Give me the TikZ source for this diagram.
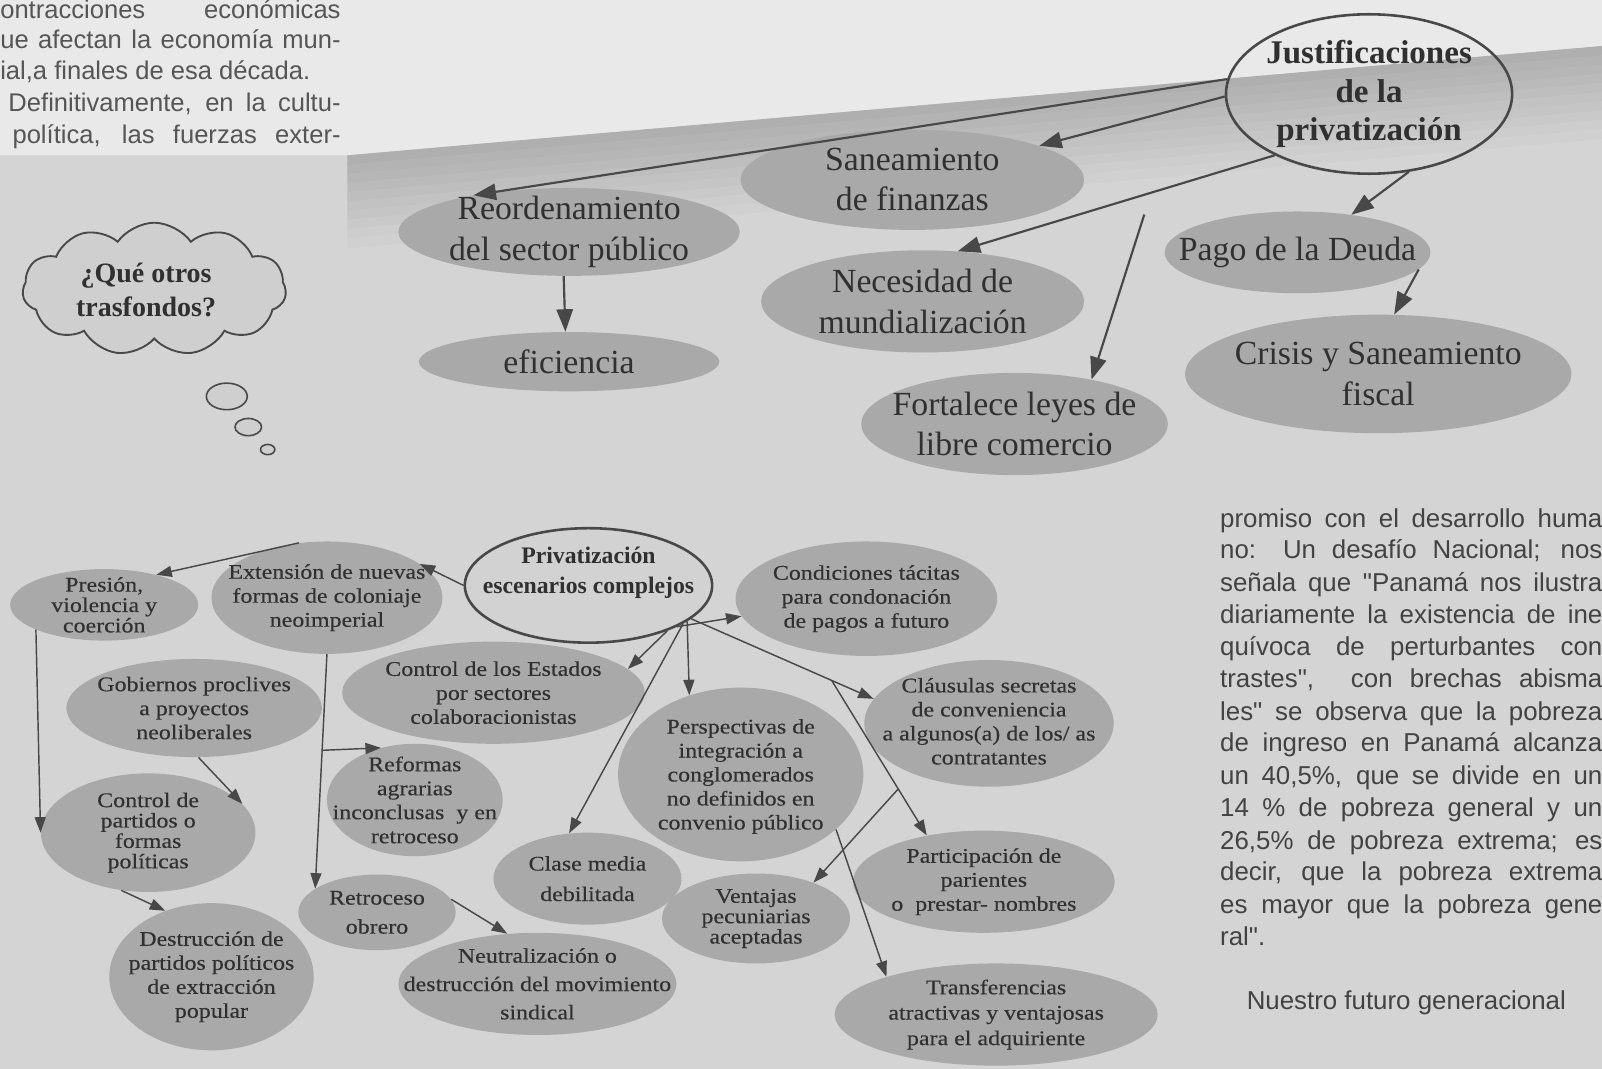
\documentclass[tikz,border=0pt]{standalone}
\usepackage{fontspec}
\setmainfont{Liberation Serif}
\newfontfamily\sansf{Liberation Sans}
\newfontfamily\serifw[FakeStretch=1.15,FakeBold=0.3]{Liberation Serif}
\usetikzlibrary{shapes.geometric,shapes.symbols,arrows.meta,calc}
\definecolor{bgc}{HTML}{D4D4D4}
\definecolor{bgl}{HTML}{E9E9E9}
\definecolor{bandc}{HTML}{AFAFAF}
\definecolor{ellc}{HTML}{A9A9A9}
\definecolor{olc}{HTML}{484848}
\definecolor{tc}{HTML}{303030}
\definecolor{ptc}{HTML}{424242}
\definecolor{ptl}{HTML}{555555}
\definecolor{outfill}{HTML}{D2D2D2}
\definecolor{cloudc}{HTML}{CFCFCF}
\newcommand{\fBig}{\fontsize{23.5}{28}\selectfont}
\newcommand{\fJus}{\bfseries\fontsize{23}{27}\selectfont}
\newcommand{\fCloud}{\bfseries\fontsize{19.5}{24}\selectfont}
\newcommand{\fPriv}{\bfseries\fontsize{16.5}{21}\selectfont}
\newcommand{\fSm}{\serifw\fontsize{14.5}{16.7}\selectfont}
\newcommand{\fSmT}{\serifw\fontsize{14.5}{14.2}\selectfont}
\pgfdeclarelayer{back}
\pgfdeclarelayer{blobs}
\pgfsetlayers{back,blobs,main}
\tikzset{
  blob/.style={ellipse, fill=ellc, inner sep=0pt},
  oblob/.style={ellipse, draw=olc, line width=1.8pt, inner sep=0pt},
  txt/.style={align=center, inner sep=0pt, text=tc},
  arrT/.style={draw=olc, line width=1.5pt, -{Triangle[length=0.55cm,width=0.4cm]}},
  arrB/.style={draw=olc, line width=1.0pt, -{Triangle[length=0.38cm,width=0.27cm]}},
  para/.style={anchor=base west, inner sep=0pt, text=ptc, font=\sansf\fontsize{18}{22}\selectfont},
  parl/.style={anchor=base west, inner sep=0pt, text=ptl, font=\sansf\fontsize{17.8}{22}\selectfont},
}
% [text shift up px]{name}{style}{x,y}{rx}{ry}{font}{text}
\newcommand{\mkblob}[8][0]{%
  \begin{pgfonlayer}{blobs}
  \node[#3, minimum width=#5*0.05cm, minimum height=#6*0.05cm] (#2) at (#4) {};
  \end{pgfonlayer}
  \node[txt, font=#7, yshift=#1*0.025cm] (#2-t) at (#2.center) {#8};}
\begin{document}
\begin{tikzpicture}[x=0.025cm, y=-0.025cm]
\useasboundingbox (0,0) rectangle (1568,1046);
\clip (0,0) rectangle (1568,1046);
\begin{pgfonlayer}{back}
\fill[bgc] (0,0) rectangle (1568,1046);
\fill[bgl] (0,0) -- (1568,0) -- (1568,45) -- (340,152) -- (0,152) -- cycle;
\foreach \i in {0,...,9}{
  \pgfmathsetmacro\p{100-10*\i}
  \fill[bandc!\p!bgc] (340,152+9*\i) -- (1568,45+9*\i) -- (1568,55+9*\i) -- (340,162+9*\i) -- cycle;
}
\end{pgfonlayer}

% top-left paragraph
\node[parl] (tl1) at (0,18) {\makebox[8.325cm][s]{ontracciones económicas}};
\node[parl] (tl2) at (0,47) {\makebox[8.325cm][s]{ue afectan la economía mun-}};
\node[parl] (tl3) at (0,78) {ial,a finales de esa década.};
\node[parl] (tl4) at (8,109) {\makebox[8.125cm][s]{Definitivamente, en la cultu-}};
\node[parl] (tl5) at (12,140) {\makebox[8.025cm][s]{política, las fuerzas exter-}};

% right paragraph
\node[para] (r1) at (1194,516) {\makebox[9.35cm][s]{promiso con el desarrollo huma}};
\node[para] (r2) at (1194,547) {\makebox[9.35cm][s]{no: Un desafío Nacional; nos}};
\node[para] (r3) at (1194,579) {\makebox[9.35cm][s]{señala que "Panamá nos ilustra}};
\node[para] (r4) at (1194,610) {\makebox[9.35cm][s]{diariamente la existencia de ine}};
\node[para] (r5) at (1194,642) {\makebox[9.35cm][s]{quívoca de perturbantes con}};
\node[para] (r6) at (1194,673) {\makebox[9.35cm][s]{trastes", \ con brechas abisma}};
\node[para] (r7) at (1194,705) {\makebox[9.35cm][s]{les" se observa que la pobreza}};
\node[para] (r8) at (1194,736) {\makebox[9.35cm][s]{de ingreso en Panamá alcanza}};
\node[para] (r9) at (1194,768) {\makebox[9.35cm][s]{un 40,5\%, que se divide en un}};
\node[para] (r10) at (1194,799) {\makebox[9.35cm][s]{14 \% de pobreza general y un}};
\node[para] (r11) at (1194,831) {\makebox[9.35cm][s]{26,5\% de pobreza extrema; es}};
\node[para] (r12) at (1194,862) {\makebox[9.35cm][s]{decir, que la pobreza extrema}};
\node[para] (r13) at (1194,894) {\makebox[9.35cm][s]{es mayor que la pobreza gene}};
\node[para] (r14) at (1194,925) {ral".};
\node[para] (r15) at (1220,988) {Nuestro futuro generacional};

% cloud
\begin{pgfonlayer}{blobs}
\node[cloud, cloud puffs=11, cloud puff arc=110, aspect=2, fill=cloudc, draw=olc, line width=1.3pt,
      minimum width=6.45cm, minimum height=3.25cm, inner sep=0pt] (cloud) at (151,283) {};
\node[ellipse, fill=cloudc, draw=olc, line width=1.1pt, minimum width=1cm, minimum height=0.65cm, inner sep=0pt] (bub1) at (222,388) {};
\node[ellipse, fill=cloudc, draw=olc, line width=1.1pt, minimum width=0.65cm, minimum height=0.42cm, inner sep=0pt] (bub2) at (243,418) {};
\node[ellipse, fill=cloudc, draw=olc, line width=1.1pt, minimum width=0.35cm, minimum height=0.25cm, inner sep=0pt] (bub3) at (262,440) {};
\end{pgfonlayer}
\node[txt, font=\fCloud] (cloud-t) at (143,284) {¿Qué otros\\trasfondos?};

% top map
\mkblob{justif}{oblob}{1340,92}{140}{78}{\fJus}{Justificaciones\\de la\\privatización}
\mkblob{sanea}{blob}{893,176}{168}{49}{\fBig}{Saneamiento\\de finanzas}
\mkblob{reord}{blob}{557,227}{167}{43}{\fBig}{Reordenamiento\\del sector público}
\mkblob{efic}{blob}{557,354}{147}{29}{\fBig}{eficiencia}
\mkblob{neces}{blob}{903,295}{158}{50}{\fBig}{Necesidad de\\mundialización}
\mkblob{pago}{blob}{1270,247}{130}{40}{\fBig}{Pago de la Deuda}
\mkblob{crisis}{blob}{1349,366}{189}{58}{\fBig}{Crisis y Saneamiento\\fiscal}
\mkblob{fortal}{blob}{993,415}{150}{50}{\fBig}{Fortalece leyes de\\libre comercio}

\draw[arrT] (justif.174) -- (reord.159);
\draw[arrT] (justif.181) -- (sanea.15);
\draw[arrT] (justif.213) -- (neces.55);
\draw[arrT] (justif.297) -- (pago.35);
\coordinate (fstart) at (1120,210);
\draw[arrT] (fstart) -- (fortal.30);
\draw[arrT] (pago.352) -- (crisis.75);
\draw[arrT] (reord.263) -- (efic.97);

% bottom map
\mkblob[12]{priv}{oblob,fill=outfill}{576,573}{121}{56}{\fPriv}{Privatización\\escenarios complejos}
\mkblob{presion}{blob}{102,592}{92}{35}{\fSmT}{Presión,\\violencia y\\coerción}
\mkblob{exten}{blob}{320,585}{113}{55}{\fSm}{Extensión de nuevas\\formas de coloniaje\\neoimperial}
\mkblob{gobier}{blob}{190,693}{125}{48}{\fSm}{Gobiernos proclives\\a proyectos\\neoliberales}
\mkblob{ctrlE}{blob}{483,678}{148}{50}{\fSm}{Control de los Estados\\por sectores\\colaboracionistas}
\mkblob{condic}{blob}{848,586}{128}{56}{\fSm}{Condiciones tácitas\\para condonación\\de pagos a futuro}
\mkblob[2]{claus}{blob}{968,708}{122}{62}{\fSm}{Cláusulas secretas\\de conveniencia\\a algunos(a) de los/ as\\contratantes}
\mkblob[-2]{persp}{blob}{725,758}{120}{85}{\fSm}{Perspectivas de\\integración a\\conglomerados\\no definidos en\\convenio público}
\mkblob{reform}{blob}{406,783}{86}{55}{\fSm}{Reformas\\agrarias\\inconclusas \ y en\\retroceso}
\mkblob{ctrlpart}{blob}{145,815}{105}{58}{\fSmT}{Control de\\partidos o\\formas\\políticas}
\mkblob{clase}{blob}{575,860}{92}{45}{\fSm}{Clase media\\[4.5pt]debilitada}
\mkblob{ventaj}{blob}{740,899}{92}{44}{\fSmT}{Ventajas\\pecuniarias\\aceptadas}
\mkblob{partic}{blob}{963,863}{128}{50}{\fSm}{Participación de\\parientes\\o \ prestar- nombres}
\mkblob{retro}{blob}{369,893}{77}{37}{\fSm}{Retroceso\\[3.5pt]obrero}
\mkblob{destruc}{blob}{207,956}{100}{72}{\fSm}{Destrucción de\\partidos políticos\\de extracción\\popular}
\mkblob{neutral}{blob}{526,963}{136}{50}{\fSm}{Neutralización o\\[3pt]destrucción del movimiento\\[3pt]sindical}
\mkblob{transf}{blob}{975,993}{158}{50}{\fSm}{Transferencias\\[1pt]atractivas y ventajosas\\[1pt]para el adquiriente}

\draw[arrB] (exten.117) -- (presion.30);
\draw[arrB] (priv.180) -- (exten.20);
\draw[arrB] (presion.200) -- (ctrlpart.180);
\draw[arrB] (exten.270) -- (retro.159);
\coordinate (brA) at ($(exten.270)!0.41!(retro.159)$);
\draw[arrB] (brA) -- (reform.123);
\draw[arrB] (gobier.275) -- (ctrlpart.17);
\draw[arrB] (ctrlpart.245) -- (destruc.125);
\draw[arrB] (retro.10) -- (neutral.121);
\draw[arrB] (priv.335) -- (condic.188);
\draw[arrB] (priv.330) -- (ctrlE.10);
\draw[arrB] (priv.338) -- (clase.112);
\draw[arrB] (priv.340) -- (persp.123);
\draw[arrB] (priv.342) -- (claus.168);
\coordinate (brB) at ($(priv.342)!0.77!(claus.168)$);
\draw[arrB] (brB) -- (partic.141);
\coordinate (brC) at ($(brB)!0.7!(partic.141)$);
\draw[arrB] (brC) -- (ventaj.32);
\draw[arrB] (persp.330) -- (transf.161);
\end{tikzpicture}
\end{document}
